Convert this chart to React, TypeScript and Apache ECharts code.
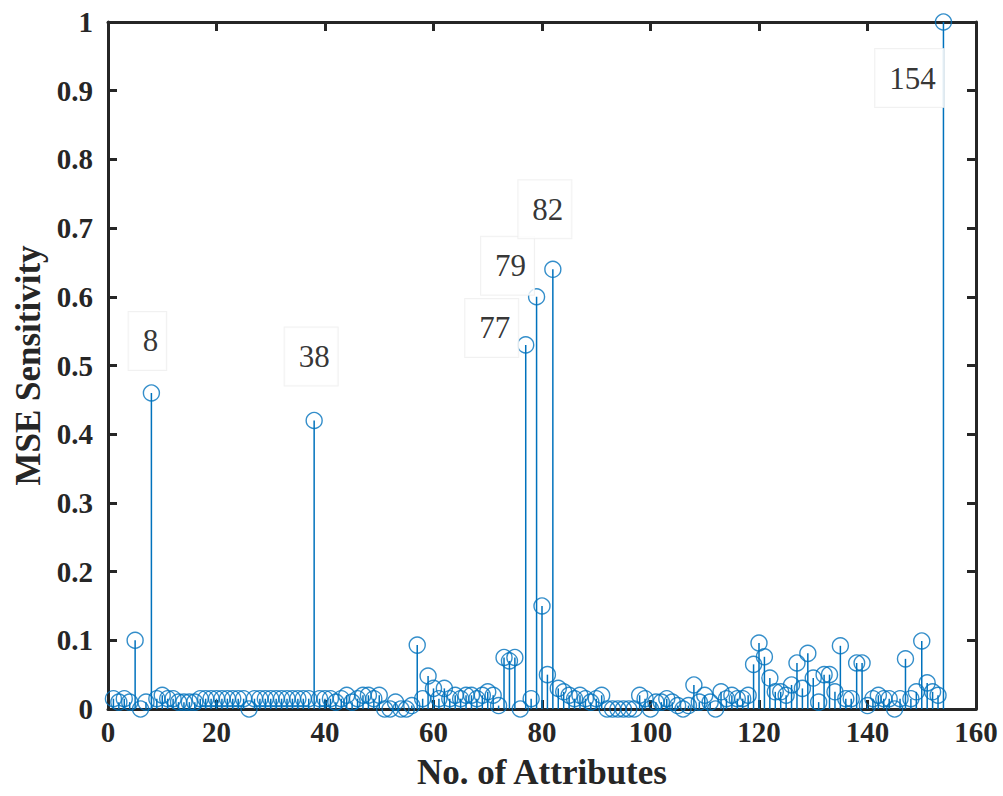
import React, { useEffect, useRef } from "react";
import * as echarts from "echarts";

// Attribute numbers (1..154)
const attributes: number[] = Array.from({ length: 154 }, (_, i) => i + 1);

// MSE sensitivity for each attribute
const sensitivity: number[] = [
  0.015, 0.01, 0.015, 0.01, 0.1, 0.0, 0.01, 0.46, 0.015, 0.02,
  0.015, 0.015, 0.01, 0.01, 0.01, 0.01, 0.015, 0.015, 0.015, 0.015,
  0.015, 0.015, 0.015, 0.015, 0.015, 0.0, 0.015, 0.015, 0.015, 0.015,
  0.015, 0.015, 0.015, 0.015, 0.015, 0.015, 0.015, 0.42, 0.015, 0.015,
  0.015, 0.01, 0.015, 0.02, 0.01, 0.015, 0.02, 0.02, 0.015, 0.02,
  0.0, 0.0, 0.01, 0.0, 0.0, 0.005, 0.093, 0.015, 0.048, 0.03,
  0.015, 0.03, 0.015, 0.02, 0.015, 0.02, 0.02, 0.015, 0.02, 0.025,
  0.02, 0.005, 0.075, 0.07, 0.075, 0.0, 0.53, 0.015, 0.6, 0.15,
  0.05, 0.64, 0.03, 0.025, 0.02, 0.015, 0.02, 0.015, 0.01, 0.015,
  0.02, 0.0, 0.0, 0.0, 0.0, 0.0, 0.0, 0.02, 0.015, 0.0,
  0.01, 0.01, 0.015, 0.01, 0.005, 0.0, 0.005, 0.035, 0.01, 0.02,
  0.01, 0.0, 0.025, 0.015, 0.02, 0.015, 0.015, 0.02, 0.065, 0.096,
  0.076, 0.045, 0.025, 0.025, 0.02, 0.035, 0.067, 0.03, 0.081, 0.045,
  0.01, 0.05, 0.05, 0.025, 0.092, 0.015, 0.015, 0.067, 0.067, 0.005,
  0.015, 0.02, 0.015, 0.015, 0.0, 0.015, 0.073, 0.015, 0.025, 0.099,
  0.038, 0.025, 0.02, 1.0,
];

// Annotated attributes
const annotated: number[] = [8, 38, 77, 79, 82, 154];

// x / y tick values
const xTicks: number[] = [0, 20, 40, 60, 80, 100, 120, 140, 160];
const yTicks: number[] = [0, 0.1, 0.2, 0.3, 0.4, 0.5, 0.6, 0.7, 0.8, 0.9, 1];

// label box offsets from the marker (style only)
const labelOffsets: Record<number, [number, number]> = {
  8: [-4, -52],
  38: [-3, -64],
  77: [-34, -17],
  79: [-29, -31],
  82: [-8, -60],
  154: [-34, 56],
};

const BLUE = "#0072BD";
const AXIS = "#262626";
const SERIF = "'Liberation Serif', 'Times New Roman', serif";

export default function App() {
  const ref = useRef<HTMLDivElement>(null);

  useEffect(() => {
    if (!ref.current) return;
    const chart = echarts.init(ref.current, undefined, { renderer: "svg" });

    const points = attributes.map((a, i) => {
      const item: any = { value: [a, sensitivity[i]] };
      if (annotated.includes(a)) {
        item.label = {
          show: true,
          position: "inside",
          formatter: String(a),
          offset: labelOffsets[a],
          color: "#000",
          fontFamily: SERIF,
          fontSize: 31,
          lineHeight: 36,
          backgroundColor: "#ffffff",
          borderColor: "#eeeeee",
          borderWidth: 1,
          padding: [11, 8, 11, 14],
        };
      }
      return item;
    });

    const axisLabelStyle = {
      fontFamily: SERIF,
      fontWeight: "bold" as const,
      fontSize: 29,
      color: AXIS,
    };

    const axisLine = { show: true, onZero: false, lineStyle: { color: AXIS, width: 3 } };
    const axisTick = { show: true, inside: true, length: 9, lineStyle: { color: AXIS, width: 3 } };

    chart.setOption({
      animation: false,
      backgroundColor: "#ffffff",
      grid: { left: 108, top: 22, width: 868, height: 687, containLabel: false },
      xAxis: [
        {
          type: "value",
          min: 0,
          max: 160,
          interval: 20,
          name: "No. of Attributes",
          nameLocation: "middle",
          nameGap: 46,
          nameTextStyle: { fontFamily: SERIF, fontWeight: "bold", fontSize: 35, color: AXIS },
          axisLine,
          axisTick,
          axisLabel: {
            ...axisLabelStyle,
            margin: 8,
            formatter: (v: number) => (xTicks.includes(v) ? String(v) : ""),
          },
          splitLine: { show: false },
        },
        {
          type: "value",
          position: "top",
          min: 0,
          max: 160,
          interval: 20,
          axisLine,
          axisTick,
          axisLabel: { show: false },
          splitLine: { show: false },
        },
      ],
      yAxis: [
        {
          type: "value",
          min: 0,
          max: 1,
          interval: 0.1,
          name: "MSE Sensitivity",
          nameLocation: "middle",
          nameGap: 58,
          nameTextStyle: { fontFamily: SERIF, fontWeight: "bold", fontSize: 35, color: AXIS },
          axisLine,
          axisTick,
          axisLabel: {
            ...axisLabelStyle,
            margin: 15,
            formatter: (v: number) => {
              const t = yTicks.find((y) => Math.abs(y - v) < 1e-9);
              return t === undefined ? "" : String(t);
            },
          },
          splitLine: { show: false },
        },
        {
          type: "value",
          position: "right",
          min: 0,
          max: 1,
          interval: 0.1,
          axisLine,
          axisTick,
          axisLabel: { show: false },
          splitLine: { show: false },
        },
      ],
      series: [
        {
          type: "custom",
          name: "stems",
          xAxisIndex: 0,
          yAxisIndex: 0,
          data: attributes.map((a, i) => [a, sensitivity[i]]),
          renderItem: (params: any, api: any) => {
            const x = api.value(0);
            const y = api.value(1);
            const p0 = api.coord([x, 0]);
            const p1 = api.coord([x, y]);
            return {
              type: "line",
              shape: { x1: p0[0], y1: p0[1], x2: p1[0], y2: p1[1] },
              style: { stroke: BLUE, lineWidth: 1.5 },
            };
          },
          z: 2,
        },
        {
          type: "scatter",
          name: "markers",
          xAxisIndex: 0,
          yAxisIndex: 0,
          symbol: "circle",
          symbolSize: 16,
          itemStyle: { color: "rgba(0,0,0,0)", borderColor: BLUE, borderWidth: 1.4 },
          emphasis: { disabled: true },
          data: points,
          z: 3,
        },
      ],
    });

    return () => chart.dispose();
  }, []);

  return (
    <div
      ref={ref}
      style={{ position: "fixed", left: 0, top: 0, width: 1003, height: 796, background: "#fff" }}
    />
  );
}
